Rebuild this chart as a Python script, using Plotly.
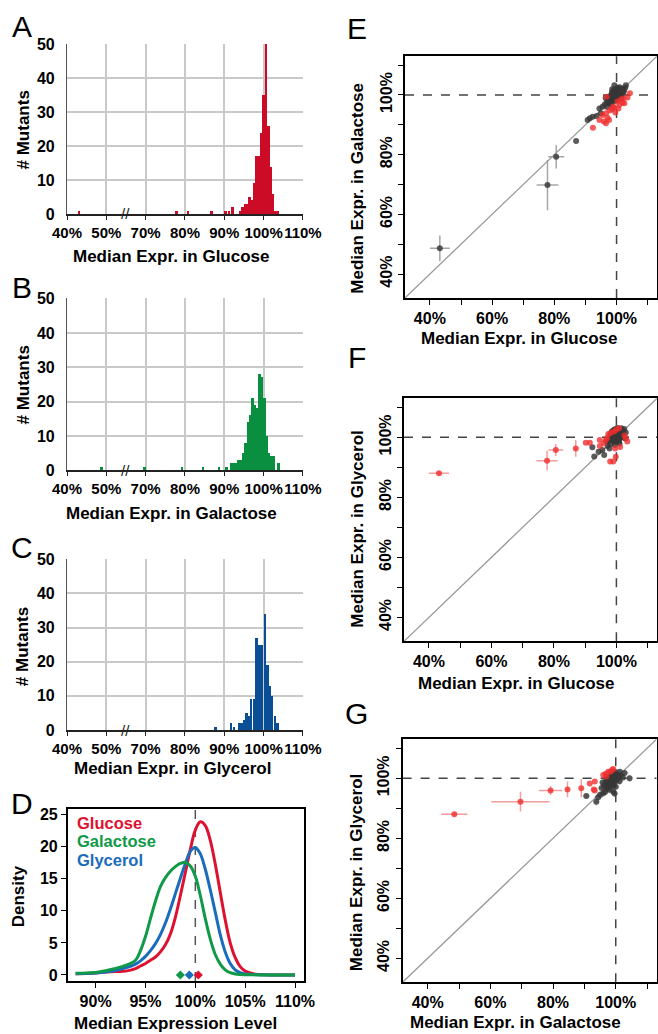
import plotly.graph_objects as go

W, H = 658, 1034
FONT = "Liberation Sans, Arial, Helvetica, sans-serif"

# ---------------- Histogram data (A, B, C) : bin centre (%), count ----------------
glu_pct = [43.1, 77.8, 80.8, 86.7, 90.3, 91.2, 92.1, 94.0, 94.6, 95.2, 95.8, 96.4, 97.0,
           97.6, 98.2, 98.8, 99.4, 100.0, 100.6, 101.2, 101.8, 102.4, 103.0, 103.6]
glu_count = [1, 1, 1, 1, 1, 1, 2, 1, 2, 3, 3, 5, 4, 9, 17, 17, 24, 35, 52, 26, 14, 6, 1, 1]

gal_pct = [48.8, 69.7, 79.3, 84.6, 88.6, 90.6, 91.8, 92.4, 93.0, 93.6, 94.2, 94.8, 95.4,
           96.0, 96.6, 97.2, 97.8, 98.4, 99.0, 99.6, 100.2, 100.8, 101.4, 102.0, 102.6, 103.8]
gal_count = [1, 1, 1, 1, 1, 1, 2, 2, 2, 3, 3, 5, 8, 14, 16, 21, 19, 18, 28, 27, 21, 10, 5, 4, 4, 2]

gly_pct = [87.8, 91.7, 92.4, 93.7, 94.4, 95.0, 95.6, 96.2, 96.8, 97.5, 98.2, 98.8, 99.5,
           100.3, 101.0, 101.6, 102.2, 102.9, 103.5]
gly_count = [1, 2, 1, 2, 2, 3, 5, 4, 9, 9, 27, 25, 25, 34, 19, 13, 10, 4, 2]

hist_ticks = [40, 50, 70, 80, 90, 100, 110]
hist_ticklabels = ["40%", "50%", "70%", "80%", "90%", "100%", "110%"]
count_ticks = [0, 10, 20, 30, 40, 50]

# ---------------- Density data (D) ----------------
dens_x = [88, 89, 90, 91, 92, 93, 94, 94.5, 95, 95.5, 96, 96.5, 97, 97.5, 98, 98.5, 99, 99.5,
          100, 100.5, 101, 101.5, 102, 102.5, 103, 103.5, 104, 104.5, 105, 106, 107, 108, 110]
dens_glu = [0.2, 0.22, 0.3, 0.45, 0.55, 0.6, 1.0, 1.4, 1.8, 2.3, 2.8, 3.6, 4.7, 6.4, 9.0, 12.4,
            16.0, 19.6, 22.6, 23.9, 23.3, 21.0, 17.3, 12.9, 8.6, 5.0, 2.7, 1.3, 0.6, 0.12, 0.03, 0.01, 0.0]
dens_gal = [0.25, 0.3, 0.4, 0.65, 1.0, 1.5, 2.3, 3.8, 6.0, 8.8, 11.5, 13.8, 15.2, 16.2, 16.9,
            17.4, 17.6, 17.0, 15.4, 12.4, 8.8, 5.6, 3.2, 1.7, 0.8, 0.35, 0.15, 0.07, 0.04, 0.02, 0.01, 0.0, 0.0]
dens_gly = [0.2, 0.22, 0.3, 0.45, 0.7, 1.1, 1.7, 2.2, 2.9, 3.8, 4.9, 6.3, 8.1, 10.3, 12.7, 15.1,
            17.4, 19.3, 19.9, 18.9, 16.5, 13.3, 9.8, 6.3, 3.6, 1.8, 0.8, 0.35, 0.15, 0.05, 0.02, 0.01, 0.0]
dens_medians = [98.5, 99.4, 100.3]          # galactose, glycerol, glucose
dens_xticks = [90, 95, 100, 105, 110]
dens_yticks = [0, 5, 10, 15, 20, 25]

# ---------------- Scatter data (E, F, G) ----------------
# E : glucose (x) vs galactose (y)
e_out_x = [43.2, 77.8, 80.6]
e_out_y = [48.6, 69.8, 79.3]
e_out_ex = [3.2, 3.5, 2.6]
e_out_ey = [4.3, 8.4, 3.9]
e_gray_x = [87.0, 90.7, 91.4, 92.3, 93.6, 94.5, 95.0, 95.5, 96.2, 96.5, 96.8, 97.0, 97.2, 97.6,
            97.8, 98.0, 98.2, 98.4, 98.5, 98.6, 98.8, 99.0, 99.0, 99.1, 99.3, 99.5, 99.7, 99.8,
            100.0, 100.2, 100.3, 100.4, 100.6, 100.8, 100.9, 101.0, 101.1, 101.3, 101.5, 101.6,
            101.8, 102.0, 102.4, 102.8, 103.0,
            98.3, 98.7, 99.2, 99.4, 99.6, 99.9, 100.1, 100.5, 100.7, 101.2, 101.4, 99.5, 100.0,
            100.4, 99.1, 98.9, 101.0, 100.2, 99.7, 100.9, 101.7, 102.2, 97.5, 98.1, 99.3]
e_gray_y = [84.6, 91.6, 92.2, 92.7, 93.0, 95.5, 93.9, 96.1, 96.8, 99.0, 97.5, 96.0, 98.4, 97.2,
            99.6, 98.0, 97.0, 99.0, 100.8, 101.9, 98.4, 99.6, 97.8, 101.6, 103.3, 100.5, 98.2, 99.2,
            100.0, 101.2, 102.4, 99.6, 100.6, 98.7, 101.5, 99.0, 99.9, 100.9, 102.0, 99.0,
            101.0, 102.2, 101.5, 102.4, 103.3,
            99.8, 100.3, 100.9, 99.1, 101.4, 100.6, 99.5, 101.8, 99.3, 101.1, 99.6, 98.6, 102.0,
            100.2, 99.2, 100.1, 102.6, 98.9, 101.0, 100.3, 101.9, 100.8, 98.9, 99.3, 98.7]
e_red_x = [92.4, 94.5, 95.5, 95.9, 96.6, 96.6, 96.8, 97.1, 97.6, 97.8, 98.5, 98.9, 99.2, 99.6,
           100.3, 100.6, 100.9, 101.4, 101.9, 102.2, 102.5, 103.5, 104.3]
e_red_y = [89.0, 91.6, 93.3, 91.1, 90.5, 93.9, 99.4, 92.4, 91.6, 94.8, 95.2, 96.1, 95.8, 94.1,
           97.8, 95.5, 96.7, 98.5, 97.4, 98.8, 97.2, 99.2, 100.6]

# F : glucose (x) vs glycerol (y)
f_out_x = [43.2, 77.8, 80.6, 87.0]
f_out_y = [88.0, 92.2, 95.8, 96.3]
f_out_ex = [3.2, 3.4, 2.4, 0.4]
f_out_ey = [0.8, 3.3, 2.0, 2.8]
f_gray_x = [92.3, 92.9, 94.3, 95.5, 96.1, 96.8, 97.2, 97.6, 97.8, 98.0, 98.1, 98.4, 98.6, 98.7,
            99.0, 99.2, 99.3, 99.5, 99.6, 99.8, 100.0, 100.2, 100.3, 100.5, 100.7, 100.8, 100.9,
            101.0, 101.2, 101.5, 101.6, 101.8, 102.1, 102.5, 102.8, 103.0,
            98.5, 99.0, 99.4, 99.7, 100.1, 100.4, 100.6, 101.1, 101.4, 99.9, 100.2, 98.8, 101.7,
            100.0, 99.3, 100.8, 101.3, 99.6, 98.3, 102.0]
f_gray_y = [96.7, 93.6, 95.2, 95.8, 94.1, 98.6, 97.1, 99.2, 96.3, 100.8, 97.8, 100.2, 102.0, 98.9,
            101.0, 102.4, 99.5, 97.4, 100.6, 98.6, 101.5, 99.8, 103.1, 100.8, 102.0, 98.4, 99.4,
            97.9, 101.0, 100.2, 103.0, 102.3, 101.0, 102.8, 99.6, 101.6,
            99.5, 100.4, 101.2, 99.0, 100.1, 101.7, 99.3, 100.5, 101.6, 102.3, 98.9, 101.4, 100.7,
            99.7, 98.5, 101.2, 99.8, 102.7, 99.0, 102.0]
f_red_x = [90.2, 91.5, 94.7, 94.7, 96.0, 96.6, 97.0, 97.4, 98.0, 98.2, 99.0, 99.3, 99.6, 99.8,
           100.0, 100.9, 101.2, 102.6, 103.0, 103.5]
f_red_y = [98.2, 98.2, 99.1, 97.1, 98.0, 99.1, 99.8, 101.1, 91.9, 101.5, 91.9, 101.9, 96.3, 93.5,
           102.6, 103.0, 96.8, 100.6, 99.7, 98.6]

# G : galactose (x) vs glycerol (y)
g_out_x = [48.5, 69.6, 79.2, 84.6, 89.0]
g_out_y = [88.0, 92.2, 95.9, 96.3, 96.7]
g_out_ex = [4.2, 9.3, 3.7, 0.6, 0.5]
g_out_ey = [0.6, 3.3, 1.5, 2.6, 3.0]
g_gray_x = [90.6, 93.8, 94.4, 95.0, 95.5, 95.8, 96.0, 96.3, 96.6, 96.8, 97.0, 97.2, 97.5, 97.8,
            98.0, 98.1, 98.4, 98.7, 98.9, 99.0, 99.2, 99.2, 99.5, 99.6, 99.8, 100.0, 100.1, 100.4,
            100.8, 101.2, 101.3, 101.6, 102.3, 102.8, 104.4,
            97.3, 97.9, 98.2, 98.5, 98.8, 99.1, 99.4, 99.7, 100.2, 100.5, 98.6, 97.6, 99.0, 100.7,
            99.3, 98.0, 96.9, 101.0, 99.9, 97.1]
g_gray_y = [94.1, 92.2, 93.7, 94.5, 96.8, 98.6, 95.0, 97.6, 95.4, 98.8, 100.3, 96.5, 99.2, 97.8,
            96.2, 100.2, 98.5, 99.6, 102.0, 101.0, 95.6, 97.9, 100.2, 94.9, 98.9, 97.2, 101.3, 99.5,
            100.6, 99.0, 102.2, 101.0, 100.3, 101.8, 100.0,
            98.2, 99.0, 97.3, 100.8, 98.1, 99.3, 101.6, 100.5, 99.6, 100.9, 101.5, 96.9, 98.8, 99.9,
            97.5, 98.4, 97.1, 100.4, 102.1, 99.8]
# light grey error crosses visible around the G cluster
g_gray_ex = [1.2, 1.0, 1.4, 1.1, 1.3, 0.9, 1.2, 1.0, 1.5, 0.8, 1.1, 1.3, 0.9, 1.0, 1.2, 0.8, 1.1,
             0.9, 1.4, 1.0, 1.3, 0.9, 1.0, 1.2, 0.8, 1.1, 0.9, 1.0, 1.3, 1.1, 1.0, 0.9, 1.2, 1.4,
             1.0, 0.8, 0.9, 1.0, 0.8, 1.1, 0.9, 1.0, 0.8, 1.2, 0.9, 1.0, 1.1, 0.8, 0.9, 1.0, 1.2,
             0.9, 1.0, 0.8, 1.1]
g_gray_ey = [1.0, 1.3, 1.1, 1.2, 0.9, 1.1, 1.4, 0.9, 1.0, 1.2, 0.8, 1.0, 1.1, 0.9, 1.3, 1.0, 0.9,
             1.2, 1.0, 0.8, 1.1, 1.2, 0.9, 1.3, 1.0, 0.9, 1.1, 0.8, 1.0, 1.2, 0.9, 1.1, 1.0, 0.9,
             1.2, 1.0, 0.8, 1.1, 0.9, 1.0, 1.2, 0.8, 1.0, 0.9, 1.1, 0.8, 1.0, 1.2, 0.9, 1.1, 1.0,
             0.8, 1.1, 0.9, 1.0]
g_red_x = [91.7, 93.0, 93.3, 93.3, 96.0, 96.8, 97.0, 97.6, 98.3, 98.8, 99.2]
g_red_y = [98.3, 96.3, 98.9, 95.9, 101.1, 101.5, 100.6, 102.2, 102.2, 102.8, 103.1]

sc_range = [32, 113]
sc_ticks = [40, 50, 60, 70, 80, 90, 100, 110]
sc_ticklabels = ["40%", "", "60%", "", "80%", "", "100%", ""]

# ---------------- Colours ----------------
RED_H, GREEN_H, BLUE_H = "#cc0c27", "#0a8f40", "#0a4f96"
RED_D, GREEN_D, BLUE_D = "#de1230", "#109a47", "#1a6cbc"
GRAY_PT = "rgba(55,55,55,0.82)"
RED_PT = "rgba(240,45,45,0.78)"
GRAY_ERR = "rgba(150,150,150,0.85)"
RED_ERR = "rgba(245,140,140,0.85)"
FUZZ_ERR = "rgba(175,175,175,0.6)"


def dx(p):
    return p / W


def dy(p):
    return 1 - p / H


def disp(v):
    # broken axis: 50%..70% is compressed into one 10% interval
    return v if v < 60 else v - 10


fig = go.Figure()
tickfont = dict(family=FONT, size=16, color="black", weight="bold")
htickfont = dict(family=FONT, size=15, color="black", weight="bold")

# ---------- Histograms ----------
hist_specs = [
    ("x", "y", glu_pct, glu_count, RED_H, 44, 214),
    ("x2", "y2", gal_pct, gal_count, GREEN_H, 298.3, 470.3),
    ("x3", "y3", gly_pct, gly_count, BLUE_H, 559, 730),
]
layout = dict()
for i, (xa, ya, pct, cnt, col, top, bot) in enumerate(hist_specs):
    fig.add_trace(go.Bar(x=[disp(v) for v in pct], y=cnt, width=0.62, marker_color=col,
                         marker_line_width=0, xaxis=xa, yaxis=ya, showlegend=False))
    xkey = "xaxis" if i == 0 else f"xaxis{i+1}"
    ykey = "yaxis" if i == 0 else f"yaxis{i+1}"
    layout[xkey] = dict(domain=[dx(67), dx(303)], anchor=ya, range=[40, 100.02],
                        tickvals=[disp(t) for t in hist_ticks], ticktext=hist_ticklabels,
                        tickangle=0,
                        showgrid=True, gridcolor="#c9c9c9", gridwidth=1.5,
                        showline=True, linecolor="#222222", linewidth=1.5,
                        ticks="outside", ticklen=4, tickcolor="#222222", tickwidth=1.2,
                        tickfont=htickfont, zeroline=False, fixedrange=True)
    layout[ykey] = dict(domain=[dy(bot), dy(top)], anchor=xa, range=[0, 50.1],
                        tickvals=count_ticks, showgrid=True, gridcolor="#c9c9c9", gridwidth=1.5,
                        showline=True, linecolor="#555555", linewidth=1.2,
                        ticks="", ticklabelstandoff=8,
                        tickfont=tickfont, zeroline=False, fixedrange=True)

# ---------- Density (D) ----------
for ys, col in [(dens_glu, RED_D), (dens_gly, BLUE_D), (dens_gal, GREEN_D)]:
    fig.add_trace(go.Scatter(x=dens_x, y=ys, mode="lines", line=dict(color=col, width=3, shape="spline"),
                             xaxis="x4", yaxis="y4", showlegend=False))
fig.add_trace(go.Scatter(x=dens_medians, y=[0, 0, 0], mode="markers",
                         marker=dict(symbol="diamond", size=7, color=[GREEN_D, BLUE_D, RED_D]),
                         xaxis="x4", yaxis="y4", showlegend=False))
layout["xaxis4"] = dict(domain=[dx(67.7), dx(304)], anchor="y4", range=[87.2, 110.9],
                        tickvals=dens_xticks, ticktext=[f"{t}%" for t in dens_xticks], tickangle=0,
                        showgrid=False, showline=True, mirror=True, linecolor="black", linewidth=1.5,
                        ticks="outside", ticklen=5, tickcolor="black", tickwidth=1.2,
                        tickfont=tickfont, zeroline=False)
layout["yaxis4"] = dict(domain=[dy(981), dy(809)], anchor="x4", range=[-0.94, 25.9],
                        tickvals=dens_yticks, showgrid=False, showline=True, mirror=True,
                        linecolor="black", linewidth=1.5, ticks="outside", ticklen=5,
                        tickcolor="black", tickwidth=1.2, tickfont=tickfont, zeroline=False)

# ---------- Scatter panels (E, F, G) ----------
sc_specs = [
    ("x5", "y5", (405, 657), (56.2, 297.9), e_out_x, e_out_y, e_out_ex, e_out_ey, "gray",
     e_gray_x, e_gray_y, None, None, e_red_x, e_red_y),
    ("x6", "y6", (404, 657), (398.3, 641.3), f_out_x, f_out_y, f_out_ex, f_out_ey, "red",
     f_gray_x, f_gray_y, None, None, f_red_x, f_red_y),
    ("x7", "y7", (402.6, 656.5), (739.3, 982.3), g_out_x, g_out_y, g_out_ex, g_out_ey, "red",
     g_gray_x, g_gray_y, g_gray_ex, g_gray_ey, g_red_x, g_red_y),
]
shapes = []
for k, (xa, ya, xd, yd, ox, oy, oex, oey, ocol, gx, gy, gex, gey, rx, ry) in enumerate(sc_specs):
    n = k + 5
    layout[f"xaxis{n}"] = dict(domain=[dx(xd[0]), dx(xd[1])], anchor=ya, range=sc_range,
                               tickvals=sc_ticks, ticktext=sc_ticklabels, showgrid=False, tickangle=0,
                               showline=True, mirror=True, linecolor="black", linewidth=1.5,
                               ticks="outside", ticklen=5, tickcolor="black", tickwidth=1.2,
                               tickfont=tickfont, zeroline=False)
    layout[f"yaxis{n}"] = dict(domain=[dy(yd[1]), dy(yd[0])], anchor=xa, range=sc_range,
                               tickvals=sc_ticks, ticktext=sc_ticklabels, showgrid=False,
                               showline=True, mirror=True, linecolor="black", linewidth=1.5,
                               ticks="outside", ticklen=5, tickcolor="black", tickwidth=1.2,
                               tickangle=-90, tickfont=tickfont, zeroline=False)
    # y = x reference line and 100% dashed lines
    shapes.append(dict(type="line", xref=xa, yref=ya, x0=sc_range[0], y0=sc_range[0],
                       x1=sc_range[1], y1=sc_range[1], line=dict(color="#9a9a9a", width=1.3), layer="below"))
    shapes.append(dict(type="line", xref=xa, yref=f"{ya} domain", x0=100, x1=100, y0=0, y1=1,
                       line=dict(color="#444444", width=1.5, dash="dash"), layer="below"))
    shapes.append(dict(type="line", xref=f"{xa} domain", yref=ya, x0=0, x1=1, y0=100, y1=100,
                       line=dict(color="#444444", width=1.5, dash="dash"), layer="below"))
    gkw = {}
    if gex is not None:
        gkw = dict(error_x=dict(type="data", array=gex, color=FUZZ_ERR, thickness=1.5, width=0),
                   error_y=dict(type="data", array=gey, color=FUZZ_ERR, thickness=1.5, width=0))
    fig.add_trace(go.Scatter(x=gx, y=gy, mode="markers", marker=dict(size=6, color=GRAY_PT),
                             xaxis=xa, yaxis=ya, showlegend=False, **gkw))
    fig.add_trace(go.Scatter(x=rx, y=ry, mode="markers", marker=dict(size=6, color=RED_PT),
                             xaxis=xa, yaxis=ya, showlegend=False))
    pc, ec = (GRAY_PT, GRAY_ERR) if ocol == "gray" else (RED_PT, RED_ERR)
    fig.add_trace(go.Scatter(x=ox, y=oy, mode="markers", marker=dict(size=6, color=pc),
                             error_x=dict(type="data", array=oex, color=ec, thickness=1.5, width=0),
                             error_y=dict(type="data", array=oey, color=ec, thickness=1.5, width=0),
                             xaxis=xa, yaxis=ya, showlegend=False))

shapes.append(dict(type="line", xref="x4", yref="y4 domain", x0=100, x1=100, y0=0, y1=1,
                   line=dict(color="#555555", width=1.5, dash="dash"), layer="below"))

# ---------- Annotations ----------
ann = []


def txt(x, y, s, size=17, bold=True, angle=0, color="black", xanchor="center"):
    ann.append(dict(x=dx(x), y=dy(y), xref="paper", yref="paper", text=f"<b>{s}</b>" if bold else s,
                    showarrow=False, textangle=angle, xanchor=xanchor, yanchor="middle",
                    font=dict(family=FONT, size=size, color=color)))


for lab, x, y in [("A", 21.5, 26), ("B", 21.5, 287), ("C", 21.5, 547), ("D", 22, 803),
                  ("E", 357, 28), ("F", 357, 357), ("G", 357, 713)]:
    txt(x, y, lab, size=30, bold=False)

txt(171.7, 256.7, "Median Expr. in Glucose")
txt(171.7, 513.3, "Median Expr. in Galactose")
txt(172, 768.3, "Median Expr. in Glycerol")
txt(175, 1023, "Median Expression Level")
for yc in (130, 385, 646.7):
    txt(22.5, yc, "# Mutants", angle=-90)
txt(18.3, 896, "Density", angle=-90)

txt(519, 338.3, "Median Expr. in Glucose")
txt(356.7, 188, "Median Expr. in Galactose", angle=-90)
txt(516.7, 683.3, "Median Expr. in Glucose")
txt(356.7, 529, "Median Expr. in Glycerol", angle=-90)
txt(515.5, 1022, "Median Expr. in Galactose")
txt(356.7, 872.5, "Median Expr. in Glycerol", angle=-90)

txt(75, 822.5, "Glucose", size=16.5, color=RED_D, xanchor="left")
txt(75, 841, "Galactose", size=16.5, color=GREEN_D, xanchor="left")
txt(75, 859.5, "Glycerol", size=16.5, color=BLUE_D, xanchor="left")

# axis-break marks on the three histograms
for xa, ya in [("x", "y"), ("x2", "y2"), ("x3", "y3")]:
    ann.append(dict(x=55, y=0, xref=xa, yref=ya, text="//", showarrow=False, yanchor="middle",
                    font=dict(family=FONT, size=15, color="#222222")))

fig.update_layout(width=W, height=H, margin=dict(l=0, r=0, t=0, b=0, autoexpand=False),
                  paper_bgcolor="white", plot_bgcolor="white", bargap=0,
                  annotations=ann, shapes=shapes, **layout)

fig.write_html("out.html", config={"displayModeBar": False},
               post_script="document.body.style.margin='0px';"
                           "document.body.style.overflow='hidden';")
